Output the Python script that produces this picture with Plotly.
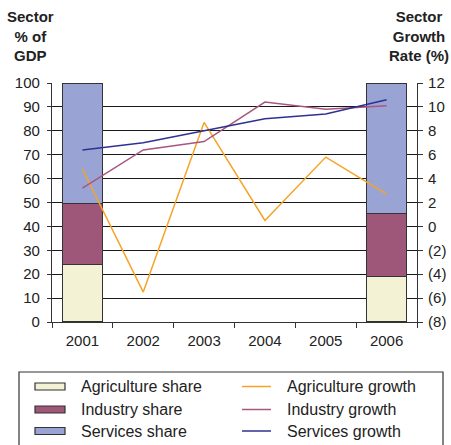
import plotly.graph_objects as go

years = ["2001", "2002", "2003", "2004", "2005", "2006"]
bar_years = ["2001", "2006"]
agri_share = [24.1, 19.0]
ind_share = [25.6, 26.4]
serv_share = [50.3, 54.6]

agri_growth = [4.8, -5.5, 8.7, 0.5, 5.8, 2.7]
ind_growth = [3.2, 6.4, 7.1, 10.4, 9.8, 10.1]
serv_growth = [6.4, 7.0, 8.0, 9.0, 9.4, 10.6]

left_ticks = [0, 10, 20, 30, 40, 50, 60, 70, 80, 90, 100]
right_tickvals = [-8, -6, -4, -2, 0, 2, 4, 6, 8, 10, 12]
right_ticktext = ["(8)", "(6)", "(4)", "(2)", "0", "2", "4", "6", "8", "10", "12"]

bar_names = ["Agriculture share", "Industry share", "Services share"]
line_names = ["Agriculture growth", "Industry growth", "Services growth"]
bar_colors = ["#F3F2D4", "#9E5679", "#99A4D4"]
line_colors = ["#F5A425", "#A8577F", "#2E3192"]

FONT = "Liberation Sans, Arial, sans-serif"
TXT = "#222222"

fig = go.Figure()
for name, vals, col in zip(bar_names, [agri_share, ind_share, serv_share], bar_colors):
    fig.add_trace(go.Bar(x=bar_years, y=vals, name=name, marker=dict(color=col, line=dict(color="#333333", width=1.2)),
                         width=0.65, showlegend=False))
for name, vals, col in zip(line_names, [agri_growth, ind_growth, serv_growth], line_colors):
    fig.add_trace(go.Scatter(x=years, y=vals, name=name, mode="lines", line=dict(color=col, width=1.5),
                             yaxis="y2", showlegend=False))

fig.update_layout(
    width=451, height=445,
    margin=dict(l=52, r=34, t=83, b=123, autoexpand=False),
    barmode="stack",
    plot_bgcolor="white", paper_bgcolor="white",
    font=dict(family=FONT, size=15, color=TXT),
    xaxis=dict(type="category", categoryorder="array", categoryarray=years, range=[-0.5, 5.5],
               showline=True, linecolor="#333333", linewidth=1.2, automargin=False,
               ticks="outside", tickson="boundaries", ticklen=5, tickcolor="#333333",
               ticklabelstandoff=5, showgrid=False, tickfont=dict(size=15)),
    yaxis=dict(range=[0, 100], tickvals=left_ticks, showline=True, linecolor="#333333", linewidth=1.2,
               ticks="outside", ticklen=4, tickcolor="#333333", ticklabelstandoff=4, automargin=False,
               showgrid=True, gridcolor="#1a1a1a", gridwidth=1.2, zeroline=False, tickfont=dict(size=15)),
    yaxis2=dict(range=[-8, 12], tickvals=right_tickvals, ticktext=right_ticktext, overlaying="y", side="right",
                showline=True, linecolor="#333333", linewidth=1.2, ticks="outside", ticklen=5, automargin=False,
                tickcolor="#333333", ticklabelstandoff=2, showgrid=False, zeroline=False, tickfont=dict(size=15)),
)

# axis titles
fig.add_annotation(text="<b>Sector<br>% of<br>GDP</b>", xref="paper", yref="paper", x=-0.06, y=1.0,
                   yshift=77, xanchor="center", yanchor="top", showarrow=False, align="center",
                   font=dict(size=15, color=TXT))
fig.add_annotation(text="<b>Sector<br>Growth<br>Rate (%)</b>", xref="paper", yref="paper", x=1.005, y=1.0,
                   yshift=77, xanchor="center", yanchor="top", showarrow=False, align="center",
                   font=dict(size=15, color=TXT))

# legend (manual frame and keys, positioned in paper coords)
W, H = 451, 445
l, r, t, b = 52, 34, 83, 123
pw, ph = W - l - r, H - t - b

def px(xp):
    return (xp - l) / pw

def py(yp):
    return (H - b - yp) / ph

fig.add_shape(type="rect", xref="paper", yref="paper", x0=px(19), x1=px(443), y0=py(450), y1=py(372),
              line=dict(color="#333333", width=1.2), fillcolor="white", layer="above")
row_y = [386.5, 409.5, 431]
for i in range(3):
    fig.add_shape(type="rect", xref="paper", yref="paper", x0=px(35), x1=px(65), y0=py(row_y[i] + 3.5),
                  y1=py(row_y[i] - 3.5), line=dict(color="#333333", width=1.2), fillcolor=bar_colors[i],
                  layer="above")
    fig.add_annotation(text=bar_names[i], xref="paper", yref="paper", x=px(79), y=py(row_y[i]),
                       xanchor="left", yanchor="middle", showarrow=False, font=dict(size=16, color=TXT))
    fig.add_shape(type="line", xref="paper", yref="paper", x0=px(242), x1=px(271), y0=py(row_y[i]),
                  y1=py(row_y[i]), line=dict(color=line_colors[i], width=1.5), layer="above")
    fig.add_annotation(text=line_names[i], xref="paper", yref="paper", x=px(285), y=py(row_y[i]),
                       xanchor="left", yanchor="middle", showarrow=False, font=dict(size=16, color=TXT))

fig.write_html("out.html")
